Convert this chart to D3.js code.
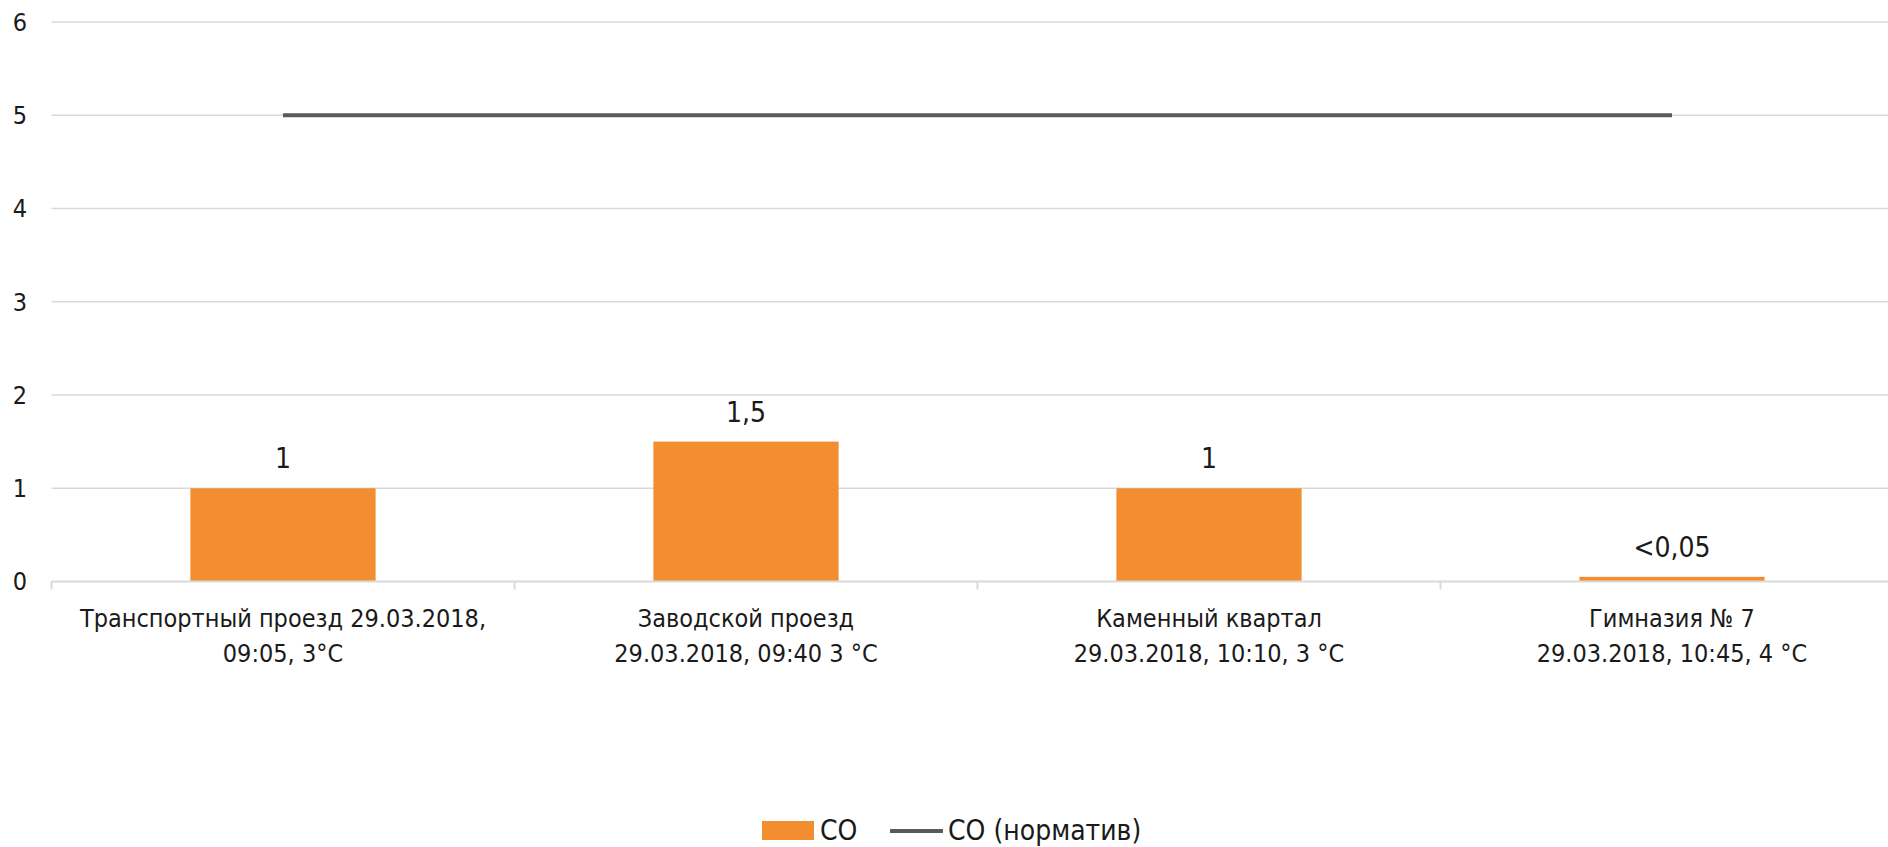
<!DOCTYPE html>
<html>
<head>
<meta charset="utf-8">
<script src="https://cdn.jsdelivr.net/npm/d3@7"></script>
<style>
  body { margin: 0; background: #fff; overflow: hidden; }
  svg text { font-family: "Liberation Sans Narrow", "DejaVu Sans Condensed", sans-serif; fill: #1a1a1a; }
</style>
</head>
<body>
<div id="chart"></div>
<script>
// data
const categories = [
  ["Транспортный проезд 29.03.2018,", "09:05, 3°C"],
  ["Заводской проезд", "29.03.2018, 09:40 3 °C"],
  ["Каменный квартал", "29.03.2018, 10:10, 3 °C"],
  ["Гимназия № 7", "29.03.2018, 10:45, 4 °C"]
];
const coValues = [1, 1.5, 1, 0.05];
const coLabels = ["1", "1,5", "1", "<0,05"];
const normValues = [5, 5, 5, 5];
const yTicks = [0, 1, 2, 3, 4, 5, 6];
const seriesNames = ["CO", "CO (норматив)"];

const width = 1888, height = 847;
const margin = { top: 22, left: 51.5, bottom: 847 - 581.5 };
const plotRight = 1903.5; // plot area runs a little past the canvas edge

const svg = d3.select("#chart")
  .append("svg")
  .attr("width", width)
  .attr("height", height);

const x = d3.scaleBand()
  .domain(d3.range(categories.length))
  .range([margin.left, plotRight])
  .paddingInner(0.6)
  .paddingOuter(0.3);

const xOuter = d3.scaleBand()
  .domain(d3.range(categories.length))
  .range([margin.left, plotRight]);

const y = d3.scaleLinear()
  .domain([0, 6])
  .range([height - margin.bottom, margin.top]);

// gridlines
svg.append("g")
  .selectAll("line")
  .data(yTicks.filter(d => d > 0))
  .join("line")
  .attr("x1", margin.left)
  .attr("x2", plotRight)
  .attr("y1", d => y(d))
  .attr("y2", d => y(d))
  .attr("stroke", "#d9d9d9")
  .attr("stroke-width", 1.5);

// y tick labels
svg.append("g")
  .selectAll("text")
  .data(yTicks)
  .join("text")
  .attr("x", 27)
  .attr("y", d => y(d))
  .attr("dy", "0.35em")
  .attr("text-anchor", "end")
  .attr("font-size", 25)
  .text(d => d);

// bars
svg.append("g")
  .selectAll("rect")
  .data(coValues)
  .join("rect")
  .attr("x", (d, i) => x(i))
  .attr("width", x.bandwidth())
  .attr("y", d => y(d))
  .attr("height", d => y(0) - y(d))
  .attr("fill", "#f28e30");

// x axis line and ticks
const axisY = y(0);
svg.append("line")
  .attr("x1", margin.left)
  .attr("x2", plotRight)
  .attr("y1", axisY)
  .attr("y2", axisY)
  .attr("stroke", "#d9d9d9")
  .attr("stroke-width", 2);

svg.append("g")
  .selectAll("line")
  .data(d3.range(categories.length))
  .join("line")
  .attr("x1", i => xOuter(i))
  .attr("x2", i => xOuter(i))
  .attr("y1", axisY)
  .attr("y2", axisY + 8)
  .attr("stroke", "#d9d9d9")
  .attr("stroke-width", 2);

// category labels
const catLabel = svg.append("g")
  .selectAll("text")
  .data(categories)
  .join("text")
  .attr("text-anchor", "middle")
  .attr("font-size", 25);

catLabel.selectAll("tspan")
  .data((d, i) => d.map(s => ({ s, i })))
  .join("tspan")
  .attr("x", d => xOuter(d.i) + xOuter.bandwidth() / 2)
  .attr("y", (d, j) => 627 + j * 35)
  .text(d => d.s);

// norm line
const line = d3.line()
  .x((d, i) => xOuter(i) + xOuter.bandwidth() / 2)
  .y(d => y(d));

svg.append("path")
  .datum(normValues)
  .attr("d", line)
  .attr("fill", "none")
  .attr("stroke", "#5a5a5a")
  .attr("stroke-width", 4);

// data labels
svg.append("g")
  .selectAll("text")
  .data(coValues)
  .join("text")
  .attr("x", (d, i) => x(i) + x.bandwidth() / 2)
  .attr("y", d => y(d) - 20)
  .attr("text-anchor", "middle")
  .attr("font-size", 28)
  .text((d, i) => coLabels[i]);

// legend
const legend = svg.append("g");
legend.append("rect")
  .attr("x", 762).attr("y", 821)
  .attr("width", 52).attr("height", 19)
  .attr("fill", "#f28e30");
legend.append("text")
  .attr("x", 820).attr("y", 840)
  .attr("font-size", 28)
  .text(seriesNames[0]);
legend.append("line")
  .attr("x1", 890).attr("x2", 943)
  .attr("y1", 831).attr("y2", 831)
  .attr("stroke", "#5a5a5a")
  .attr("stroke-width", 4);
legend.append("text")
  .attr("x", 948).attr("y", 840)
  .attr("font-size", 28)
  .text(seriesNames[1]);
</script>
</body>
</html>
